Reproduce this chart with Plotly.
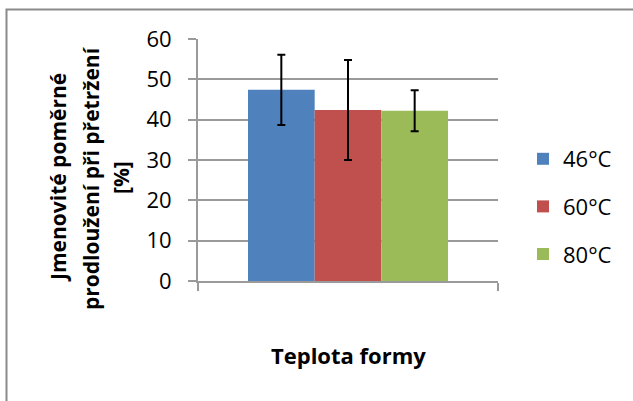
import plotly.graph_objects as go

series_names = ["46°C", "60°C", "80°C"]
values = [47.4, 42.4, 42.2]
errors = [8.7, 12.4, 5.1]
colors = ["#4F81BD", "#C0504D", "#9BBB59"]
y_ticks = [0, 10, 20, 30, 40, 50, 60]
x_title = "Teplota formy"
y_title_lines = ["Jmenovité poměrné", "prodloužení při přetržení", "[%]"]

W, H = 633, 401
# plot area in page pixels: x 198..498, y 39..281
L, R, T, B = 198, 633 - 498, 39, 401 - 281
pw, ph = W - L - R, H - T - B

def px_x(px):
    return (px - L) / pw

def px_y(py):
    return (H - B - py) / ph

fig = go.Figure()
for name, v, e, c in zip(series_names, values, errors, colors):
    fig.add_trace(go.Bar(
        x=[0], y=[v], name=name, marker=dict(color=c, line=dict(width=0)),
        error_y=dict(type="data", array=[e], visible=True, color="black",
                     thickness=2, width=4),
        legendgroup=name,
    ))

font = "Open Sans, Arial, sans-serif"
grid_col = "#9a9a9a"

fig.update_layout(
    width=W, height=H,
    margin=dict(l=L, r=R, t=T, b=B, autoexpand=False),
    paper_bgcolor="white", plot_bgcolor="white",
    barmode="group", bargap=1/3, bargroupgap=0,
    showlegend=True,
    legend=dict(x=px_x(523), y=px_y(138), xanchor="left", yanchor="top",
                font=dict(family=font, size=22, color="black"),
                tracegroupgap=16, traceorder="grouped",
                bgcolor="rgba(0,0,0,0)"),
    font=dict(family=font, color="black"),
)
fig.update_yaxes(
    range=[0, 60], tickvals=y_ticks, showgrid=True, gridcolor=grid_col, gridwidth=2,
    showline=True, linecolor=grid_col, linewidth=2, ticks="outside", ticklen=8,
    tickcolor=grid_col, tickwidth=2, tickfont=dict(family=font, size=22, color="black"),
    ticklabelstandoff=12, zeroline=False, fixedrange=True,
)
fig.update_xaxes(
    range=[-0.5, 0.5], tickvals=[-0.5, 0.5], ticktext=["", ""], showgrid=False,
    showline=True, linecolor=grid_col, linewidth=2, ticks="outside", ticklen=8,
    tickcolor=grid_col, tickwidth=2, showticklabels=False, zeroline=False,
)

annotations = [dict(text=f"<b>{x_title}</b>", xref="paper", yref="paper",
                    x=px_x(348.5), y=px_y(355), xanchor="center", yanchor="middle",
                    showarrow=False, font=dict(family=font, size=22, color="black"))]
for txt, cx in zip(y_title_lines, [58, 91, 121]):
    annotations.append(dict(text=f"<b>{txt}</b>", xref="paper", yref="paper",
                            x=px_x(cx), y=px_y(178), xanchor="center", yanchor="middle",
                            textangle=-90, showarrow=False,
                            font=dict(family=font, size=21, color="black")))
fig.update_layout(annotations=annotations)

fig.add_shape(type="rect", xref="paper", yref="paper",
              x0=px_x(6.5), x1=px_x(660), y0=px_y(9.5), y1=px_y(430),
              line=dict(color="#8a8a8a", width=2), fillcolor="rgba(0,0,0,0)", layer="below")

fig.write_html("out.html", config={"displayModeBar": False},
               post_script="document.body.style.margin='0';document.body.style.overflow='hidden';")
